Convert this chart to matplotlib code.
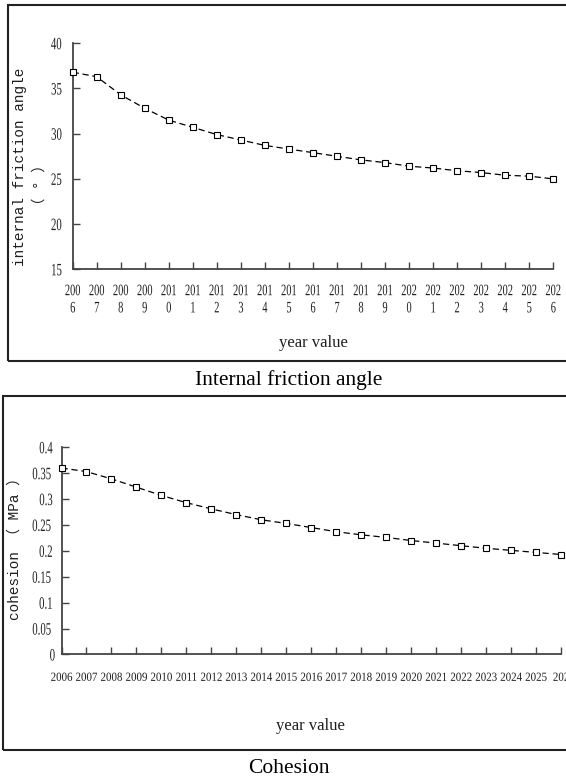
import matplotlib
matplotlib.use("Agg")
import matplotlib.pyplot as plt
from matplotlib import patheffects
from matplotlib.patches import Rectangle
from matplotlib.transforms import Affine2D

# data
years = list(range(2006, 2027))
friction_angle = [36.8, 36.3, 34.3, 32.8, 31.5, 30.7, 29.9, 29.3, 28.7, 28.3, 27.9,
                  27.5, 27.1, 26.8, 26.4, 26.2, 25.9, 25.7, 25.4, 25.3, 25.0]
cohesion = [0.360, 0.353, 0.339, 0.323, 0.307, 0.293, 0.281, 0.270, 0.260, 0.253, 0.245,
            0.237, 0.231, 0.226, 0.220, 0.215, 0.210, 0.205, 0.201, 0.197, 0.193]
angle_ticks = [15, 20, 25, 30, 35, 40]
cohesion_ticks = [0, 0.05, 0.1, 0.15, 0.2, 0.25, 0.3, 0.35, 0.4]
cohesion_tick_labels = ["0", "0.05", "0.1", "0.15", "0.2", "0.25", "0.3", "0.35", "0.4"]

top_xlabels = [str(y)[:3] + "\n" + str(y)[3:] for y in years]
bottom_xlabels = [str(y) for y in years]
bottom_xlabels[-1] = "202"   # last label is cut off by the frame in the original


class Squeeze(patheffects.AbstractPathEffect):
    """narrow the glyphs horizontally (fake condensed font)"""
    def __init__(self, sx=0.75):
        super().__init__()
        self.sx = sx

    def draw_path(self, renderer, gc, tpath, affine, rgbFace=None):
        ext = tpath.get_extents()
        cx = (ext.x0 + ext.x1) / 2
        t = Affine2D().translate(-cx, 0).scale(self.sx, 1).translate(cx, 0) + affine
        renderer.draw_path(gc, tpath, t, rgbFace)


TEXT_COLOR = "#1e1e1e"
YTICK_FONT = dict(family="Liberation Serif", size=12.5, color=TEXT_COLOR,
                  path_effects=[Squeeze(0.62)])
XTICK_FONT = dict(family="Liberation Serif", size=11.5, color=TEXT_COLOR,
                  path_effects=[Squeeze(0.65)])
SMALL_TICK_FONT = dict(family="Liberation Serif", size=8.95, color=TEXT_COLOR,
                       path_effects=[Squeeze(0.88)])
AX_COLOR = "#444444"
MONO = ["Liberation Mono", "Noto Sans CJK SC"]


def style_axes(ax):
    for side in ["top", "right"]:
        ax.spines[side].set_visible(False)
    for side in ["left", "bottom"]:
        ax.spines[side].set_color(AX_COLOR)
        ax.spines[side].set_linewidth(1.3)
    ax.tick_params(direction="in", length=5, width=1.0, color=AX_COLOR)


def draw_series(ax, y):
    ax.plot(years, y, color="black", lw=0.9, linestyle=(0, (5, 3)),
            marker="s", markersize=4, markerfacecolor="white",
            markeredgecolor="black", markeredgewidth=0.8, clip_on=False, zorder=3)


fig = plt.figure(figsize=(5.66, 7.81), dpi=100)

# frames around each panel
fig.patches.append(Rectangle((0.0141, 0.5378), 1.0, 0.4558, transform=fig.transFigure,
                             fill=False, edgecolor="#222222", lw=1.5))
fig.patches.append(Rectangle((0.0048, 0.0403), 1.0, 0.4527, transform=fig.transFigure,
                             fill=False, edgecolor="#222222", lw=1.5))

# --- internal friction angle ---
ax1 = fig.add_axes([0.1284, 0.6552, 0.8491, 0.2894])
draw_series(ax1, friction_angle)
ax1.set_xlim(2006, 2026)
ax1.set_ylim(15, 40)
ax1.set_xticks(years, top_xlabels, linespacing=1.1, **XTICK_FONT)
ax1.set_yticks(angle_ticks, [str(t) for t in angle_ticks], **YTICK_FONT)
style_axes(ax1)
ax1.tick_params(axis="x", pad=10)
ax1.tick_params(axis="y", pad=5.5)

fig.text(0.0353, 0.786, "internal friction angle", rotation=90, ha="center", va="center",
         family=MONO, size=10.4, color=TEXT_COLOR)
fig.text(0.0707, 0.763, "（ ° ）", rotation=90, ha="center", va="center",
         family=MONO, size=10.4, color=TEXT_COLOR)
fig.text(0.553, 0.5604, "year value", ha="center", va="center",
         family="Liberation Serif", size=12, color=TEXT_COLOR)
fig.text(0.5106, 0.5134, "Internal friction angle", ha="center", va="center",
         family="Liberation Serif", size=15.5, color="black")

# --- cohesion ---
ax2 = fig.add_axes([0.1087, 0.1620, 0.8825, 0.2653])
draw_series(ax2, cohesion)
ax2.set_xlim(2006, 2026)
ax2.set_ylim(0, 0.4)
ax2.set_xticks(years, bottom_xlabels, **SMALL_TICK_FONT)
ax2.set_yticks(cohesion_ticks, cohesion_tick_labels, **YTICK_FONT)
style_axes(ax2)
ax2.tick_params(axis="x", pad=12.5)
ax2.tick_params(axis="y", pad=3.5)

fig.text(0.0265, 0.302, "cohesion （ MPa ）", rotation=90, ha="center", va="center",
         family=MONO, size=10.4, color=TEXT_COLOR)
fig.text(0.5486, 0.0708, "year value", ha="center", va="center",
         family="Liberation Serif", size=12, color=TEXT_COLOR)
fig.text(0.5106, 0.0166, "Cohesion", ha="center", va="center",
         family="Liberation Serif", size=15.5, color="black")

fig.savefig("out.png", dpi=100)
